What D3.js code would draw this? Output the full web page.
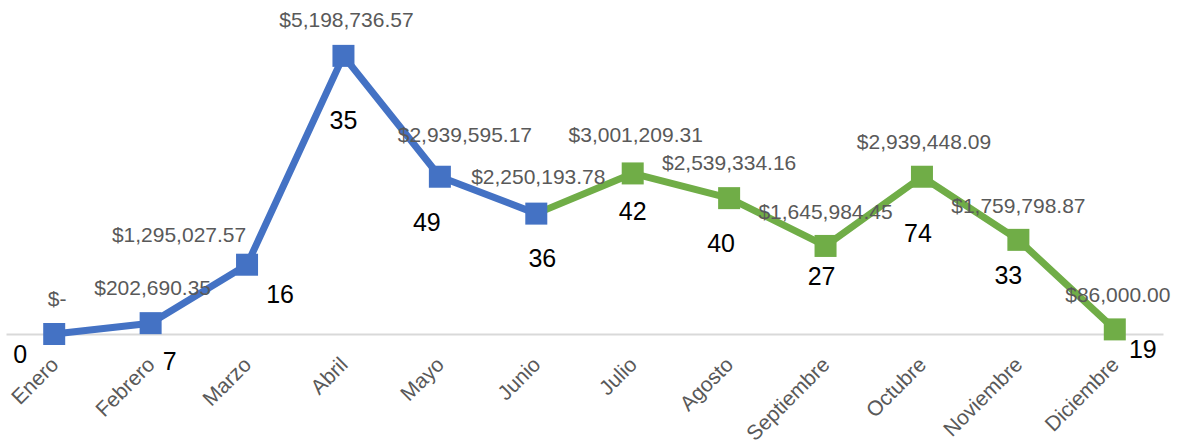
<!DOCTYPE html>
<html>
<head>
<meta charset="utf-8">
<script src="https://cdn.jsdelivr.net/npm/d3@7"></script>
<style>
  body { margin: 0; background: #fff; }
  text { font-family: 'Liberation Sans', Arial, sans-serif; }
</style>
</head>
<body>
<script>
'use strict'

// datos del grafico
var meses = ['Enero', 'Febrero', 'Marzo', 'Abril', 'Mayo', 'Junio', 'Julio', 'Agosto', 'Septiembre', 'Octubre', 'Noviembre', 'Diciembre']
var montos = [0, 202690.35, 1295027.57, 5198736.57, 2939595.17, 2250193.78, 3001209.31, 2539334.16, 1645984.45, 2939448.09, 1759798.87, 86000.00]
var cantidades = [0, 7, 16, 35, 49, 36, 42, 40, 27, 74, 33, 19]
var corte = 5 // Junio: hasta aqui azul, despues verde

// ajustes de posicion de las etiquetas (dx, dy respecto al marcador)
var offMonto = [[3, -36], [2, -36], [-68, -30], [3, -36], [25, -42], [2, -37], [3, -39], [0, -36], [0, -34], [2, -35], [0, -34], [3, -35]]
var offCant = [[-34, 20], [19, 38], [33, 29], [0, 64], [-13, 45], [6, 44], [0, 38], [-8, 45], [-4, 30], [-4, 56], [-10, 35], [28, 20]]

var width = 1184
var height = 445
var plot = {left: 6, right: 1163, top: 13, bottom: 334}

var azul = '#4472C4'
var verde = '#70AD47'

var data = meses.map(function (m, i) {
  return {mes: m, monto: montos[i], cant: cantidades[i], i: i}
})

var x = d3.scalePoint().domain(meses).range([plot.left, plot.right]).padding(0.5)
var y = d3.scaleLinear().domain([0, 6000000]).range([plot.bottom, plot.top])

var svg = d3.select('body').append('svg')
  .attr('width', width)
  .attr('height', height)

var fmt = d3.format(',.2f')
function dinero (v) {
  return v === 0 ? '$-' : '$' + fmt(v)
}

// eje x
var xAxis = svg.append('g')
  .attr('transform', `translate(0, ${plot.bottom})`)
  .call(d3.axisBottom(x).tickSize(0).tickSizeOuter(0))
xAxis.select('.domain')
  .attr('stroke', '#d9d9d9')
  .attr('stroke-width', 2)
xAxis.selectAll('text')
  .attr('font-size', '21px')
  .attr('fill', '#595959')
  .attr('text-anchor', 'end')
  .attr('dy', 0)
  .attr('y', 0)
  .attr('transform', 'translate(5, 32) rotate(-45)')

var line = d3.line()
  .x(d => x(d.mes))
  .y(d => y(d.monto))

svg.append('path')
  .datum(data.slice(corte))
  .attr('fill', 'none')
  .attr('stroke', verde)
  .attr('stroke-width', 7)
  .attr('stroke-linejoin', 'round')
  .attr('d', line)

svg.append('path')
  .datum(data.slice(0, corte + 1))
  .attr('fill', 'none')
  .attr('stroke', azul)
  .attr('stroke-width', 7)
  .attr('stroke-linejoin', 'round')
  .attr('d', line)

var size = 22
svg.selectAll('.dot')
  .data(data)
  .enter().append('rect')
  .attr('class', 'dot')
  .attr('x', d => x(d.mes) - size / 2)
  .attr('y', d => y(d.monto) - size / 2)
  .attr('width', size)
  .attr('height', size)
  .attr('fill', d => d.i <= corte ? azul : verde)

svg.selectAll('text.monto')
  .data(data)
  .enter().append('text')
  .attr('class', 'monto')
  .attr('font-size', '21px')
  .attr('fill', '#595959')
  .attr('text-anchor', 'middle')
  .attr('dominant-baseline', 'central')
  .attr('x', d => x(d.mes) + offMonto[d.i][0])
  .attr('y', d => y(d.monto) + offMonto[d.i][1])
  .text(d => dinero(d.monto))

svg.selectAll('text.cant')
  .data(data)
  .enter().append('text')
  .attr('class', 'cant')
  .attr('font-size', '25px')
  .attr('fill', '#000')
  .attr('text-anchor', 'middle')
  .attr('dominant-baseline', 'central')
  .attr('x', d => x(d.mes) + offCant[d.i][0])
  .attr('y', d => y(d.monto) + offCant[d.i][1])
  .text(d => d.cant)
</script>
</body>
</html>
